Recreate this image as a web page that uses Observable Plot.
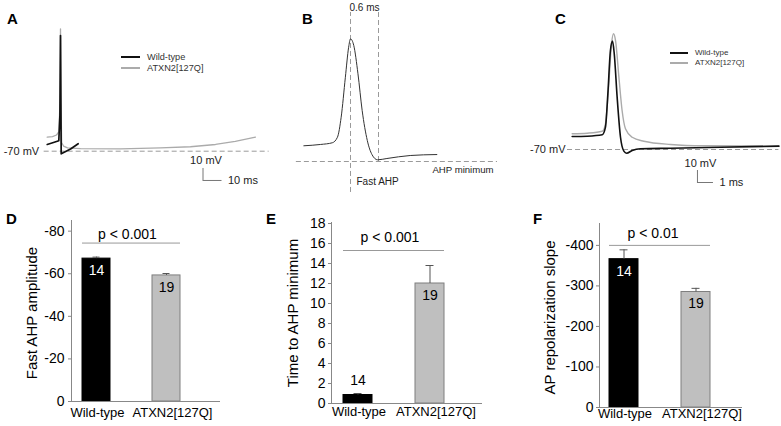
<!DOCTYPE html>
<html><head><meta charset="utf-8">
<script src="https://cdn.jsdelivr.net/npm/d3@7"></script>
<script src="https://cdn.jsdelivr.net/npm/@observablehq/plot@0.6"></script>
<style>
body{margin:0;background:#fff;}
#root{position:relative;width:781px;height:426px;overflow:hidden;background:#fff;font-family:"Liberation Sans",Arial,sans-serif;}
.lbl{position:absolute;font-weight:bold;font-size:15px;line-height:15px;color:#000;}
.leg{position:absolute;white-space:nowrap;color:#333;}
.legline{position:absolute;}
</style></head><body><div id="root"></div>
<script>
// ---------- DATA ----------
// Panel A traces: [time (ms, relative to spike peak), membrane potential (mV)]
const aWildType = [[-7.0,-64.4],[-3.7,-62.7],[-0.9,-61.3],[-0.3,-40],[0,26.4],[0.2,-30],[0.37,-72.2],[5.3,-68.2],[9.3,-63.8]];
const aMutant = [[-7.0,-58.3],[-4.2,-57.8],[-2.1,-56.5],[-0.8,-53.6],[-0.26,-27.8],[0,32],[0.26,-27.8],[0.6,-62.8],[1.6,-65.7],[3.7,-67.2],[10.5,-67.9],[31.6,-68],[52.6,-67.3],[68.4,-66.3],[81.6,-64.4],[92,-61.9],[102.6,-58.3]];
// Panel B schematic trace
const bTrace = [[-1.0,-61.9],[-0.64,-60.8],[-0.39,-59.4],[-0.28,-54.8],[-0.2,-38.1],[-0.11,-4.8],[-0.04,20.2],[0,27.2],[0.07,21.7],[0.16,-1.9],[0.25,-32.5],[0.36,-57.5],[0.46,-69.2],[0.58,-73.6],[0.78,-72.5],[1.28,-70],[1.85,-69.2]];
const bFastAhpTime = 0.6;     // ms
const bAhpMinimum = -75;      // mV
// Panel C traces
const cWildType = [[-2.52,-59.2],[-1.58,-58.9],[-0.64,-57.7],[-0.44,-51.4],[-0.29,-23.6],[-0.13,12.5],[0,20.3],[0.11,9.7],[0.29,-26.4],[0.5,-59.8],[0.71,-71.4],[0.88,-73.1],[1.23,-70.8],[1.75,-69.4],[3.63,-68.9],[6.75,-68.1],[10.4,-67.2]];
const cMutant = [[-2.52,-56.9],[-1.58,-56.4],[-0.64,-54.8],[-0.44,-48.6],[-0.23,-15.2],[-0.06,18.1],[0.06,26.4],[0.19,20.8],[0.4,-9.7],[0.6,-37.5],[0.81,-52.7],[1.23,-59.8],[1.96,-63.1],[3.63,-65.8],[5.7,-66.9],[10.4,-67.2]];
const restingPotential = -70; // mV
const legendNames = ["Wild-type", "ATXN2[127Q]"];

// Bar panels
const genotypes = ["Wild-type", "ATXN2[127Q]"];
const cellCounts = [14, 19];
const fastAhpMean = [-67.1, -59.2];
const fastAhpSem = [0.7, 0.9];
const timeToMinMean = [0.85, 12.0];
const timeToMinSem = [0.15, 1.8];
const repolSlopeMean = [-366, -285];
const repolSlopeSem = [23, 9];
const pLabels = ["p < 0.001", "p < 0.001", "p < 0.01"];
const ticksD = [0, -20, -40, -60, -80];
const ticksE = [0, 2, 4, 6, 8, 10, 12, 14, 16, 18];
const ticksF = [0, -100, -200, -300, -400];
const titles = ["Fast AHP amplitude", "Time to AHP minimum", "AP repolarization slope"];
const panelLetters = ["A", "B", "C", "D", "E", "F"];

// ---------- LAYOUT / STYLE ----------
const FONT = '"Liberation Sans", Arial, sans-serif';
const root = document.getElementById("root");
const base = {width: 781, height: 426, style: {position: "absolute", left: "0px", top: "0px", background: "transparent", overflow: "visible", fontFamily: FONT}};
const DASH = {stroke: "#9a9a9a", strokeDasharray: "5,3", strokeWidth: 1};
const GRAY_TRACE = "#ababab";
const BLACK_TRACE = "#111";
const pt = {x: d => d[0], y: d => d[1]};

function add(node) { root.appendChild(node); }

// panel letters
const letterPos = [[7,11],[302,11],[555,11],[6,211],[266,211],[533,211]];
panelLetters.forEach((L, i) => {
  const d = document.createElement("div");
  d.className = "lbl"; d.textContent = L;
  d.style.left = letterPos[i][0] + "px"; d.style.top = letterPos[i][1] + "px";
  add(d);
});

// legends (HTML)
function legend(x0, x1, tx, ys, fs, widths) {
  [BLACK_TRACE, GRAY_TRACE].forEach((c, i) => {
    const l = document.createElement("div");
    l.className = "legline";
    l.style.left = x0 + "px"; l.style.width = (x1 - x0) + "px";
    l.style.top = (ys[i] - widths[i] / 2) + "px"; l.style.height = widths[i] + "px";
    l.style.background = c;
    add(l);
    const t = document.createElement("div");
    t.className = "leg"; t.textContent = legendNames[i];
    t.style.fontSize = fs + "px"; t.style.lineHeight = "10px";
    t.style.left = tx + "px"; t.style.top = (ys[i] - 5) + "px";
    add(t);
  });
}

// ---------- PANEL A ----------
const A = {dashFrom: -8.6, dashTo: 109.8, t0: 75, v0: -94.4, ms: 10, mv: 10};
add(Plot.plot({...base, margin: 0,
  x: {domain: [0, 10], range: [60, 79], axis: null},
  y: {domain: [-70, -60], range: [150.7, 138.7], axis: null},
  marks: [
    Plot.ruleY([restingPotential], {x1: A.dashFrom, x2: A.dashTo, ...DASH}),
    Plot.line(aMutant, {...pt, stroke: GRAY_TRACE, strokeWidth: 1.3}),
    Plot.line(aWildType, {...pt, stroke: BLACK_TRACE, strokeWidth: 1.7}),
    Plot.text(["-70 mV"], {x: A.dashFrom, y: restingPotential, textAnchor: "end", dx: -5, fontSize: 11, fill: "#222"}),
    Plot.ruleX([A], {x: "t0", y1: "v0", y2: d => d.v0 + d.mv, stroke: "#777"}),
    Plot.ruleY([A], {y: "v0", x1: "t0", x2: d => d.t0 + d.ms, stroke: "#777"}),
    Plot.text([A], {x: "t0", y: d => d.v0 + d.mv, text: d => `${d.mv} mV`, dx: 3, dy: -8, fontSize: 11, fill: "#222"}),
    Plot.text([A], {x: d => d.t0 + d.ms, y: "v0", text: d => `${d.ms} ms`, textAnchor: "start", dx: 6, fontSize: 11, fill: "#222"})
  ]
}));
legend(121, 140, 147, [57, 68], 9.2, [2, 1.5]);

// ---------- PANEL B ----------
const B = {dashFrom: -1.16, dashTo: 3.15, top: 49.2, bottom: -100.8};
add(Plot.plot({...base, margin: 0,
  x: {domain: [0, 0.6], range: [350, 378], axis: null},
  y: {domain: [-75, -65], range: [161, 149], axis: null},
  marks: [
    Plot.ruleY([bAhpMinimum], {x1: B.dashFrom, x2: B.dashTo, ...DASH}),
    Plot.ruleX([0], {y1: B.bottom, y2: B.top, ...DASH}),
    Plot.ruleX([bFastAhpTime], {y1: bAhpMinimum, y2: B.top, ...DASH}),
    Plot.line(bTrace, {...pt, stroke: "#333", strokeWidth: 1, curve: "monotone-x"}),
    Plot.text([`${bFastAhpTime} ms`], {x: bFastAhpTime / 2, y: B.top, dy: -5, fontSize: 10, fill: "#222"}),
    Plot.text(["Fast AHP"], {x: 0, y: bAhpMinimum, dx: 6, dy: 20, textAnchor: "start", fontSize: 10, fill: "#222"}),
    Plot.text(["AHP minimum"], {x: 1.756, y: bAhpMinimum, dy: 8, textAnchor: "start", fontSize: 9.6, fill: "#222"})
  ]
}));

// ---------- PANEL C ----------
const C = {dashFrom: -2.81, dashTo: 10.4, t0: 5.31, v0: -97.5, ms: 1, mv: 10};
add(Plot.plot({...base, margin: 0,
  x: {domain: [0, 1], range: [612, 628], axis: null},
  y: {domain: [-70, -60], range: [149, 137], axis: null},
  marks: [
    Plot.ruleY([restingPotential], {x1: C.dashFrom, x2: C.dashTo, ...DASH}),
    Plot.line(cMutant, {...pt, stroke: GRAY_TRACE, strokeWidth: 1.4, curve: "monotone-x"}),
    Plot.line(cWildType, {...pt, stroke: BLACK_TRACE, strokeWidth: 1.6, curve: "monotone-x"}),
    Plot.text(["-70 mV"], {x: C.dashFrom, y: restingPotential, textAnchor: "end", dx: -2, fontSize: 11, fill: "#222"}),
    Plot.ruleX([C], {x: "t0", y1: "v0", y2: d => d.v0 + d.mv, stroke: "#777"}),
    Plot.ruleY([C], {y: "v0", x1: "t0", x2: d => d.t0 + d.ms, stroke: "#777"}),
    Plot.text([C], {x: "t0", y: d => d.v0 + d.mv, text: d => `${d.mv} mV`, dx: 3, dy: -7, fontSize: 11, fill: "#222"}),
    Plot.text([C], {x: d => d.t0 + d.ms, y: "v0", text: d => `${d.ms} ms`, textAnchor: "start", dx: 6, fontSize: 11, fill: "#222"})
  ]
}));
legend(670, 688, 695, [53, 63], 8, [2, 1.5]);

// ---------- BAR PANELS ----------
const BAR_FILL = ["#000000", "#bfbfbf"];
const BAR_STROKE = ["#000000", "#7f7f7f"];
function barPanel(o) {
  const rows = genotypes.map((g, i) => ({g, mean: o.means[i], sem: o.sems[i], n: cellCounts[i], fill: BAR_FILL[i], stroke: BAR_STROKE[i], text: i === 0 ? "#fff" : "#000"}));
  const sign = Math.sign(o.domain[1]);
  const limit = Math.abs(o.domain[1]) * 0.1;
  const inside = rows.filter(d => Math.abs(d.mean) > limit);
  const outside = rows.filter(d => Math.abs(d.mean) <= limit);
  const first = () => genotypes[0], second = () => genotypes[1];
  return Plot.plot({...base,
    marginLeft: o.ml, marginRight: 781 - o.xEnd, marginTop: o.mt, marginBottom: 426 - o.y0,
    x: {type: "band", domain: genotypes, range: o.xr, paddingInner: 0.6, paddingOuter: 0.3, align: 0.5, axis: null},
    y: {domain: o.domain},
    color: {type: "identity"},
    marks: [
      Plot.barY(rows, {x: "g", y: "mean", fill: "fill", stroke: "stroke", strokeWidth: 1}),
      Plot.ruleX(rows, {x: "g", y1: "mean", y2: d => d.mean + sign * d.sem, stroke: "#555"}),
      Plot.tickY(rows, {x: "g", y: d => d.mean + sign * d.sem, stroke: "#555", insetLeft: 10.5, insetRight: 10.5}),
      Plot.text(inside, {x: "g", y: "mean", text: "n", dy: 12, fill: "text", fontSize: 14}),
      Plot.text(outside, {x: "g", y: d => d.mean + sign * d.sem, text: "n", dy: -13, fill: "#000", fontSize: 14}),
      Plot.ruleY([o.pY], {x1: first, x2: second, stroke: "#999"}),
      Plot.text([o.p], {x: first, y: o.pY, dx: o.pdx, dy: o.pdy, fontSize: 14, fill: "#000"}),
      Plot.ruleY([0], {stroke: "#888"}),
      Plot.frame({anchor: "left", stroke: "#888"}),
      Plot.axisY({ticks: o.ticks, tickSize: 3, tickPadding: o.tp, fontSize: 14, stroke: "#888", fill: "#000", label: null, tickFormat: d => String(d)}),
      Plot.text(rows.slice(0, 1), {x: "g", y: 0, text: "g", dy: o.xdy, dx: 1, fontSize: 13, fill: "#000"}),
      Plot.text(rows.slice(1), {x: "g", y: 0, text: "g", dy: o.xdy, dx: 6, fontSize: 13, fill: "#000"}),
      Plot.text([o.title], {frameAnchor: "left", textAnchor: "middle", rotate: -90, dx: o.tdx, dy: o.tdy, fontSize: 15, fill: "#000"})
    ]
  });
}

add(barPanel({means: fastAhpMean, sems: fastAhpSem, domain: [0, -85], ticks: ticksD, ml: 71, xEnd: 220, mt: 220, y0: 401,
  xr: [61, 201], p: pLabels[0], pY: -74.4, pdx: 31, pdy: -9, tp: 4, xdy: 11, title: titles[0], tdx: -39, tdy: 2}));
add(barPanel({means: timeToMinMean, sems: timeToMinSem, domain: [0, 18.1], ticks: ticksE, ml: 331, xEnd: 482, mt: 222, y0: 403,
  xr: [321.25, 466.25], p: pLabels[1], pY: 15.3, pdx: 32, pdy: -13, tp: 3, xdy: 8, title: titles[1], tdx: -38, tdy: 0}));
add(barPanel({means: repolSlopeMean, sems: repolSlopeSem, domain: [0, -454], ticks: ticksF, ml: 599, xEnd: 742, mt: 223, y0: 407,
  xr: [587.25, 732.25], p: pLabels[2], pY: -400, pdx: 29, pdy: -12, tp: 3, xdy: 6.5, title: titles[2], tdx: -49, tdy: 2}));
</script></body></html>
